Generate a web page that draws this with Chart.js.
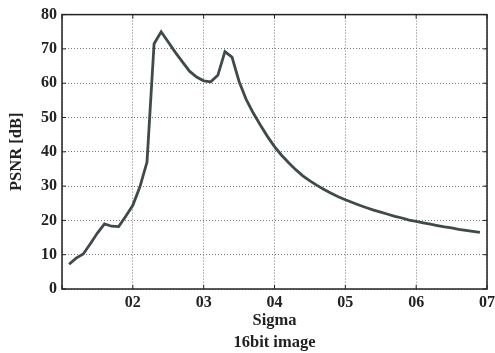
<!DOCTYPE html>
<html>
<head>
<meta charset="utf-8">
<script src="https://cdn.jsdelivr.net/npm/chart.js@4.4.0/dist/chart.umd.min.js"></script>
<style>
  html, body { margin: 0; padding: 0; background: #fff; }
  #wrap { width: 495px; height: 353px; }
</style>
</head>
<body>
<div id="wrap"><canvas id="psnrChart"></canvas></div>
<script>
// sigma values (0.11 .. 0.69) and PSNR
const sigma = [0.11, 0.12, 0.13, 0.14, 0.15, 0.16, 0.17, 0.18, 0.19, 0.20,
    0.21, 0.22, 0.23, 0.24, 0.25, 0.26, 0.27, 0.28, 0.29, 0.30,
    0.31, 0.32, 0.33, 0.34, 0.35, 0.36, 0.37, 0.38, 0.39, 0.40,
    0.41, 0.42, 0.43, 0.44, 0.45, 0.46, 0.47, 0.48, 0.49, 0.50,
    0.51, 0.52, 0.53, 0.54, 0.55, 0.56, 0.57, 0.58, 0.59, 0.60,
    0.61, 0.62, 0.63, 0.64, 0.65, 0.66, 0.67, 0.68, 0.69];
const psnr = [7.2, 9.0, 10.2, 13.2, 16.3, 19.0, 18.3, 18.2, 21.2, 24.4,
    29.8, 37.0, 71.5, 75.0, 72.0, 69.0, 66.2, 63.5, 61.8, 60.7,
    60.4, 62.3, 69.2, 67.6, 60.5, 55.3, 51.3, 47.8, 44.5, 41.5,
    39.0, 36.8, 34.8, 33.0, 31.5, 30.2, 29.0, 27.9, 26.9, 26.0,
    25.2, 24.4, 23.7, 23.0, 22.4, 21.8, 21.2, 20.7, 20.1, 19.7,
    19.3, 18.9, 18.5, 18.1, 17.8, 17.4, 17.1, 16.8, 16.5];
const yTicks = [0, 10, 20, 30, 40, 50, 60, 70, 80];
const xTicks = [0.1, 0.2, 0.3, 0.4, 0.5, 0.6, 0.7];

const points = sigma.map((s, i) => ({ x: s, y: psnr[i] }));
const serif = "'Liberation Serif', 'DejaVu Serif', serif";

// matlab style: box round the plot and short ticks pointing inward
const boxPlugin = {
    id: "box",
    afterDraw(chart) {
        const { ctx, chartArea: a, scales } = chart;
        ctx.save();
        ctx.strokeStyle = "#222";
        ctx.lineWidth = 1.5;
        ctx.strokeRect(a.left, a.top, a.right - a.left, a.bottom - a.top);
        ctx.lineWidth = 1;
        ctx.beginPath();
        yTicks.forEach(v => {
            const y = scales.y.getPixelForValue(v);
            ctx.moveTo(a.left, y); ctx.lineTo(a.left + 4, y);
            ctx.moveTo(a.right, y); ctx.lineTo(a.right - 4, y);
        });
        xTicks.forEach(v => {
            const x = scales.x.getPixelForValue(v);
            ctx.moveTo(x, a.bottom); ctx.lineTo(x, a.bottom - 4);
            ctx.moveTo(x, a.top); ctx.lineTo(x, a.top + 4);
        });
        ctx.stroke();
        ctx.restore();
    },
};

new Chart(document.getElementById("psnrChart"), {
    type: "line",
    data: {
        datasets: [
            {
                data: points,
                borderColor: "#3f4a4a",
                borderWidth: 2.8,
                pointRadius: 0,
                tension: 0,
                fill: false,
            },
        ],
    },
    options: {
        responsive: true,
        maintainAspectRatio: false,
        animation: false,
        layout: { padding: { top: 8, right: 0, left: 0, bottom: 0 } },
        plugins: {
            legend: { display: false },
            tooltip: { enabled: false },
        },
        scales: {
            x: {
                type: "linear",
                min: 0.1,
                max: 0.7,
                afterBuildTicks: (scale) => {
                    scale.ticks = xTicks.map(v => ({ value: v }));
                },
                afterFit: (scale) => {
                    scale.height = 64;
                    scale.paddingRight = 8;
                },
                ticks: {
                    color: "#222",
                    font: { family: serif, size: 16, weight: "bold" },
                    padding: 4,
                    maxRotation: 0,
                    callback: (v) => {
                        const n = Math.round(v * 10);
                        return n === 1 ? "" : "0" + n;
                    },
                },
                grid: {
                    color: "#777",
                    lineWidth: 1,
                    drawTicks: false,
                },
                border: { display: false, dash: [1, 2] },
                title: {
                    display: true,
                    text: ["Sigma", "16bit image"],
                    color: "#222",
                    font: { family: serif, size: 16.5, weight: "bold", lineHeight: 1.3 },
                    padding: { top: 0, bottom: 0 },
                },
            },
            y: {
                min: 0,
                max: 80,
                afterBuildTicks: (scale) => {
                    scale.ticks = yTicks.map(v => ({ value: v }));
                },
                afterFit: (scale) => {
                    scale.width = 62;
                },
                ticks: {
                    color: "#222",
                    font: { family: serif, size: 16, weight: "bold" },
                    padding: 5,
                },
                grid: {
                    color: "#777",
                    lineWidth: 1,
                    drawTicks: false,
                },
                border: { display: false, dash: [1, 2] },
                title: {
                    display: true,
                    text: "PSNR [dB]",
                    color: "#222",
                    font: { family: serif, size: 16.5, weight: "bold" },
                    padding: { top: 7, bottom: 0 },
                },
            },
        },
    },
    plugins: [boxPlugin],
});
</script>
</body>
</html>
